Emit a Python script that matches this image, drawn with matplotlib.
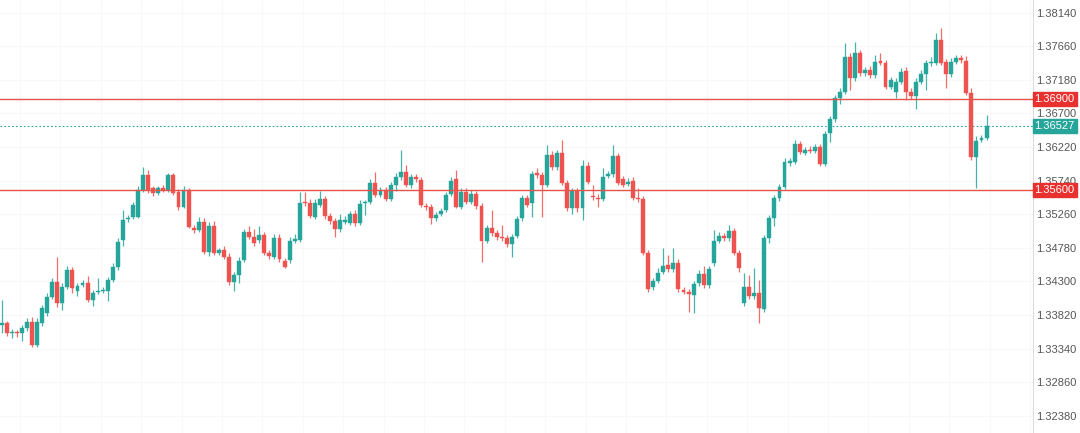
import matplotlib
matplotlib.use("Agg")
import matplotlib.pyplot as plt
import matplotlib.transforms as mtransforms
import numpy as np

# OHLC candles (prices)
opens = [
    1.33678, 1.33702, 1.33560, 1.33568, 1.33560, 1.33631, 1.33725, 1.33392, 1.33702, 1.33845,
    1.34082, 1.34297, 1.33988, 1.34225, 1.34464, 1.34168, 1.34250, 1.34274, 1.34035, 1.34145,
    1.34164, 1.34168, 1.34321, 1.34511, 1.34892, 1.35188, 1.35225, 1.35225, 1.35607, 1.35821,
    1.35631, 1.35568, 1.35631, 1.35607, 1.35821, 1.35582, 1.35368, 1.35607, 1.35060, 1.35035,
    1.35154, 1.34725, 1.35092, 1.34702, 1.34750, 1.34654, 1.34297, 1.34392, 1.34607, 1.35011,
    1.34940, 1.34892, 1.34964, 1.34711, 1.34654, 1.34925, 1.34597, 1.34607, 1.34882, 1.34892,
    1.35440, 1.35425, 1.35225, 1.35392, 1.35474, 1.35235, 1.35164, 1.35045, 1.35154, 1.35140,
    1.35264, 1.35131, 1.35417, 1.35440, 1.35711, 1.35535, 1.35607, 1.35474, 1.35678, 1.35797,
    1.35868, 1.35678, 1.35788, 1.35750, 1.35378, 1.35360, 1.35202, 1.35264, 1.35321, 1.35550,
    1.35760, 1.35368, 1.35582, 1.35440, 1.35550, 1.35378, 1.34882, 1.35060, 1.34988, 1.34940,
    1.34917, 1.34835, 1.34950, 1.35202, 1.35488, 1.35417, 1.35845, 1.35821, 1.35678, 1.36107,
    1.35931, 1.36131, 1.35702, 1.35345, 1.35592, 1.35345, 1.35950, 1.35514, 1.35497, 1.35478,
    1.35807, 1.35831, 1.36092, 1.35760, 1.35688, 1.35740, 1.35497, 1.35478, 1.34711, 1.34217,
    1.34311, 1.34440, 1.34535, 1.34474, 1.34568, 1.34178, 1.34154, 1.34107, 1.34274, 1.34407,
    1.34250, 1.34560, 1.34882, 1.34950, 1.34917, 1.35021, 1.34711, 1.33988, 1.34217, 1.34092,
    1.34140, 1.33902, 1.34917, 1.35202, 1.35488, 1.35654, 1.35997, 1.36011, 1.36264, 1.36131,
    1.36178, 1.36168, 1.36217, 1.35978, 1.36417, 1.36617, 1.36917, 1.37011, 1.37511, 1.37202,
    1.37560, 1.37274, 1.37321, 1.37250, 1.37450, 1.37417, 1.37082, 1.37011, 1.37154, 1.37311,
    1.37011, 1.36950, 1.37154, 1.37264, 1.37417, 1.37425, 1.37750, 1.37440, 1.37264, 1.37440,
    1.37497, 1.37454, 1.36997, 1.36082, 1.36321, 1.36345,
]
closes = [
    1.33702, 1.33560, 1.33582, 1.33560, 1.33631, 1.33725, 1.33392, 1.33725, 1.33917, 1.34082,
    1.34297, 1.33988, 1.34225, 1.34464, 1.34202, 1.34235, 1.34282, 1.34035, 1.34131, 1.34168,
    1.34185, 1.34321, 1.34511, 1.34868, 1.35178, 1.35211, 1.35392, 1.35607, 1.35821, 1.35607,
    1.35560, 1.35631, 1.35607, 1.35821, 1.35560, 1.35368, 1.35607, 1.35082, 1.35035, 1.35154,
    1.34725, 1.35092, 1.34702, 1.34750, 1.34654, 1.34297, 1.34392, 1.34597, 1.35011, 1.34940,
    1.34854, 1.34964, 1.34711, 1.34664, 1.34925, 1.34617, 1.34511, 1.34882, 1.34907, 1.35425,
    1.35417, 1.35235, 1.35425, 1.35474, 1.35235, 1.35164, 1.35045, 1.35178, 1.35178, 1.35264,
    1.35131, 1.35402, 1.35431, 1.35711, 1.35535, 1.35607, 1.35474, 1.35678, 1.35788, 1.35868,
    1.35678, 1.35788, 1.35760, 1.35392, 1.35360, 1.35202, 1.35250, 1.35311, 1.35535, 1.35740,
    1.35368, 1.35582, 1.35440, 1.35550, 1.35378, 1.34882, 1.35060, 1.34988, 1.34940, 1.34917,
    1.34835, 1.34931, 1.35188, 1.35488, 1.35392, 1.35835, 1.35821, 1.35678, 1.36107, 1.35931,
    1.36131, 1.35711, 1.35345, 1.35592, 1.35345, 1.35950, 1.35725, 1.35500, 1.35478, 1.35788,
    1.35831, 1.36092, 1.35711, 1.35678, 1.35725, 1.35497, 1.35478, 1.34711, 1.34188, 1.34311,
    1.34425, 1.34521, 1.34474, 1.34568, 1.34188, 1.34154, 1.34117, 1.34264, 1.34407, 1.34250,
    1.34474, 1.34878, 1.34950, 1.34917, 1.35021, 1.34711, 1.34488, 1.34217, 1.34092, 1.34140,
    1.33917, 1.34917, 1.35202, 1.35488, 1.35645, 1.36011, 1.36025, 1.36264, 1.36154, 1.36178,
    1.36168, 1.36217, 1.35978, 1.36407, 1.36617, 1.36917, 1.37011, 1.37511, 1.37202, 1.37560,
    1.37274, 1.37321, 1.37250, 1.37440, 1.37425, 1.37082, 1.37178, 1.37154, 1.37297, 1.37011,
    1.36950, 1.37154, 1.37264, 1.37417, 1.37431, 1.37750, 1.37425, 1.37264, 1.37440, 1.37497,
    1.37464, 1.36997, 1.36082, 1.36311, 1.36345, 1.36527,
]
highs = [
    1.34035, 1.33735, 1.33621, 1.33607, 1.33678, 1.33778, 1.33792, 1.33778, 1.33964, 1.34135,
    1.34350, 1.34654, 1.34278, 1.34521, 1.34507, 1.34278, 1.34321, 1.34378, 1.34178, 1.34350,
    1.34221, 1.34364, 1.34564, 1.34921, 1.35321, 1.35250, 1.35435, 1.35664, 1.35935, 1.35892,
    1.35664, 1.35664, 1.35678, 1.35850, 1.35850, 1.35621, 1.35664, 1.35635, 1.35107, 1.35221,
    1.35207, 1.35150, 1.35164, 1.34778, 1.34807, 1.34707, 1.34435, 1.34650, 1.35050, 1.35092,
    1.35050, 1.35092, 1.35007, 1.34750, 1.34978, 1.34978, 1.34635, 1.34935, 1.34978, 1.35578,
    1.35578, 1.35478, 1.35478, 1.35592, 1.35521, 1.35278, 1.35207, 1.35264, 1.35235, 1.35307,
    1.35321, 1.35464, 1.35464, 1.35764, 1.35864, 1.35650, 1.35650, 1.35721, 1.35850, 1.36178,
    1.35964, 1.35835, 1.35835, 1.35792, 1.35421, 1.35407, 1.35292, 1.35350, 1.35578, 1.35792,
    1.35892, 1.35635, 1.35635, 1.35607, 1.35592, 1.35421, 1.35107, 1.35321, 1.35035, 1.35107,
    1.34964, 1.34978, 1.35235, 1.35535, 1.35535, 1.35878, 1.35921, 1.35864, 1.36250, 1.36164,
    1.36178, 1.36321, 1.35750, 1.35635, 1.35635, 1.36035, 1.36007, 1.35678, 1.35550, 1.35921,
    1.35878, 1.36250, 1.36135, 1.35807, 1.35778, 1.35792, 1.35635, 1.35521, 1.34750, 1.34350,
    1.34492, 1.34778, 1.34678, 1.34778, 1.34621, 1.34221, 1.34192, 1.34307, 1.34464, 1.34521,
    1.34521, 1.35035, 1.35007, 1.34992, 1.35107, 1.35064, 1.34750, 1.34421, 1.34392, 1.34492,
    1.34321, 1.34964, 1.35250, 1.35535, 1.35692, 1.36064, 1.36064, 1.36321, 1.36307, 1.36221,
    1.36235, 1.36264, 1.36264, 1.36450, 1.36664, 1.36964, 1.37064, 1.37702, 1.37564, 1.37725,
    1.37607, 1.37364, 1.37378, 1.37535, 1.37560, 1.37464, 1.37221, 1.37207, 1.37350, 1.37364,
    1.37064, 1.37207, 1.37321, 1.37464, 1.37511, 1.37845, 1.37917, 1.37478, 1.37492, 1.37535,
    1.37535, 1.37521, 1.37064, 1.36378, 1.36392, 1.36678,
]
lows = [
    1.33564, 1.33521, 1.33492, 1.33507, 1.33450, 1.33592, 1.33364, 1.33364, 1.33664, 1.33807,
    1.34050, 1.33935, 1.33892, 1.34192, 1.34135, 1.34092, 1.34221, 1.34007, 1.33950, 1.34121,
    1.34135, 1.34021, 1.34292, 1.34464, 1.34807, 1.35150, 1.35192, 1.35207, 1.35578, 1.35564,
    1.35521, 1.35535, 1.35578, 1.35578, 1.35535, 1.35321, 1.35350, 1.35064, 1.34992, 1.35007,
    1.34692, 1.34664, 1.34678, 1.34678, 1.34621, 1.34250, 1.34164, 1.34278, 1.34578, 1.34907,
    1.34807, 1.34850, 1.34678, 1.34621, 1.34621, 1.34578, 1.34492, 1.34564, 1.34850, 1.34864,
    1.35378, 1.35207, 1.35192, 1.35364, 1.35192, 1.35121, 1.34935, 1.35007, 1.35121, 1.35107,
    1.35092, 1.35107, 1.35250, 1.35407, 1.35507, 1.35507, 1.35450, 1.35450, 1.35592, 1.35750,
    1.35650, 1.35635, 1.35721, 1.35364, 1.35321, 1.35121, 1.35164, 1.35235, 1.35292, 1.35521,
    1.35350, 1.35335, 1.35407, 1.35407, 1.35335, 1.34582, 1.34850, 1.34950, 1.34892, 1.34878,
    1.34792, 1.34654, 1.34921, 1.35164, 1.35364, 1.35225, 1.35778, 1.35225, 1.35650, 1.35892,
    1.35892, 1.35678, 1.35307, 1.35264, 1.35292, 1.35178, 1.35692, 1.35464, 1.35364, 1.35450,
    1.35778, 1.35792, 1.35678, 1.35650, 1.35664, 1.35464, 1.35435, 1.34678, 1.34150, 1.34178,
    1.34278, 1.34407, 1.34435, 1.34435, 1.34150, 1.34121, 1.33868, 1.33854, 1.34235, 1.34207,
    1.34207, 1.34521, 1.34850, 1.34878, 1.34878, 1.34678, 1.34435, 1.33950, 1.34050, 1.34050,
    1.33702, 1.33864, 1.34850, 1.35092, 1.35450, 1.35621, 1.35950, 1.35978, 1.36121, 1.36107,
    1.36135, 1.36135, 1.35950, 1.35950, 1.36292, 1.36578, 1.36835, 1.36978, 1.37035, 1.37164,
    1.37235, 1.37235, 1.37207, 1.37207, 1.37392, 1.37050, 1.37050, 1.36921, 1.37121, 1.36892,
    1.36907, 1.36764, 1.37121, 1.37035, 1.37378, 1.37392, 1.37392, 1.37060, 1.37221, 1.37407,
    1.37421, 1.36964, 1.36035, 1.35631, 1.36292, 1.36321,
]

price_ticks = [1.32380, 1.32860, 1.33340, 1.33820, 1.34300, 1.34780, 1.35260,
               1.35740, 1.36220, 1.36700, 1.37180, 1.37660, 1.38140]
resistance = 1.36900
support = 1.35600
last_price = closes[-1]

GREEN = "#26a69a"
RED = "#ef5350"
LINE_RED = "#e5534b"

fig = plt.figure(figsize=(10.8, 4.33), dpi=100)
ax = fig.add_axes([0.0, 0.0, 1033 / 1080, 1.0])

o = np.array(opens)
c = np.array(closes)
h = np.array(highs)
l = np.array(lows)
x = np.arange(len(o))
up = c >= o
colors = np.where(up, GREEN, RED)

# very faint grid
for gx in np.arange(3.6, 205, 8):
    ax.axvline(gx, color="#f8f8f8", lw=0.8, zorder=0)
for t in price_ticks:
    ax.axhline(t, color="#f8f8f8", lw=0.8, zorder=0)

# wicks and bodies
ax.vlines(x, l, h, colors=colors, lw=0.9, alpha=0.85, zorder=2)
body_lo = np.minimum(o, c)
body_h = np.maximum(np.abs(c - o), 0.00012)
ax.bar(x, body_h, bottom=body_lo, width=0.78, color=colors, edgecolor=colors,
       linewidth=0.3, zorder=3)

# support / resistance and last price
ax.axhline(resistance, color=LINE_RED, lw=1.0, zorder=4)
ax.axhline(support, color=LINE_RED, lw=1.0, zorder=4)
ax.axhline(last_price, color=GREEN, lw=0.8, ls=(0, (1.5, 2)), zorder=1)

ax.set_xlim(-0.34, 204.2)
ax.set_ylim(1.32135, 1.38321)

for side in ["top", "left", "bottom"]:
    ax.spines[side].set_visible(False)
ax.spines["right"].set_color("#dddddd")
ax.spines["right"].set_linewidth(0.8)
ax.set_xticks([])
ax.yaxis.tick_right()
ax.set_yticks(price_ticks)
ax.set_yticklabels([f"{t:.5f}" for t in price_ticks], fontsize=8,
                   family="Liberation Sans", color="#555555")
ax.tick_params(axis="y", length=0, pad=2)

trans = mtransforms.blended_transform_factory(ax.transAxes, ax.transData)
for val, col in [(resistance, "#e8302e"), (support, "#e8302e"), (last_price, GREEN)]:
    ax.text(1.0015, val, f"{val:.5f}", transform=trans, ha="left", va="center",
            fontsize=8, family="Liberation Sans", color="white", zorder=6,
            clip_on=False,
            bbox=dict(boxstyle="square,pad=0.18", fc=col, ec=col))

fig.savefig("out.png", dpi=100)
